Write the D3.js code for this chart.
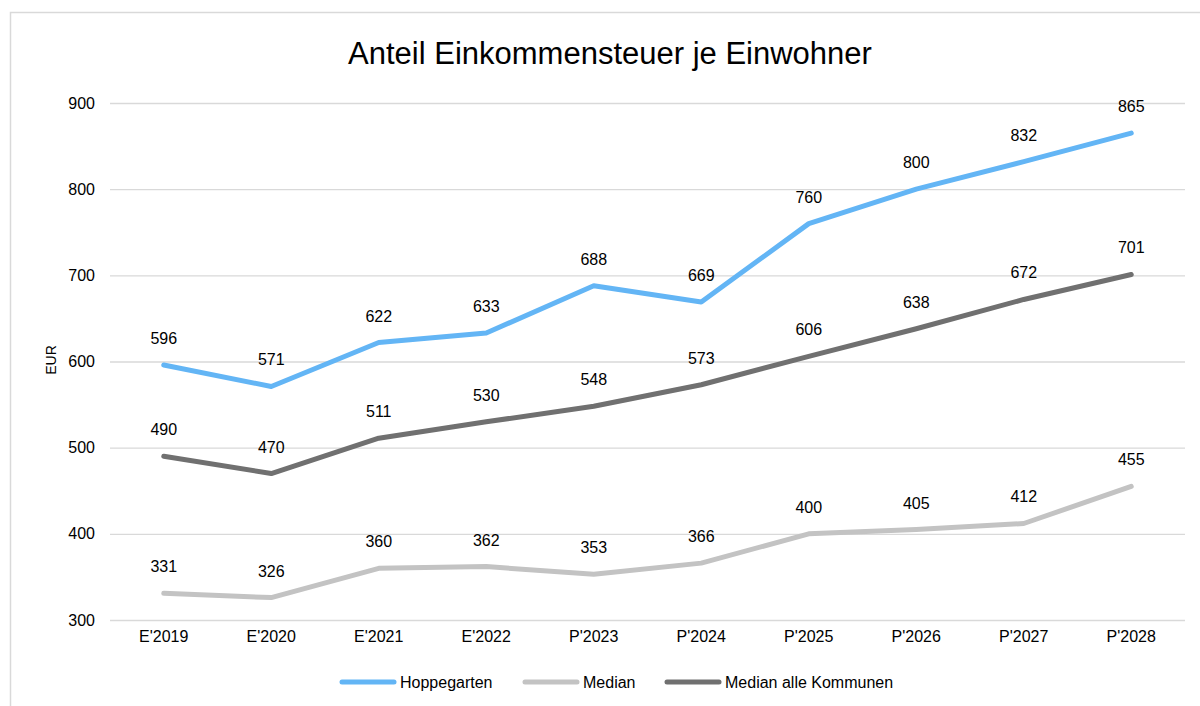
<!DOCTYPE html>
<html>
<head>
<meta charset="utf-8">
<script src="https://cdn.jsdelivr.net/npm/d3@7"></script>
<style>
  body { margin: 0; background: #fff; font-family: 'Liberation Sans', Arial, sans-serif; }
</style>
</head>
<body>
<script>
const categories = ["E'2019", "E'2020", "E'2021", "E'2022", "P'2023", "P'2024", "P'2025", "P'2026", "P'2027", "P'2028"];
const hoppegarten = [596, 571, 622, 633, 688, 669, 760, 800, 832, 865];
const median = [331, 326, 360, 362, 353, 366, 400, 405, 412, 455];
const medianAlle = [490, 470, 511, 530, 548, 573, 606, 638, 672, 701];
const yTicks = [300, 400, 500, 600, 700, 800, 900];

const series = [
  { name: 'Hoppegarten', values: hoppegarten, color: '#63b5f5' },
  { name: 'Median', values: median, color: '#c3c3c3' },
  { name: 'Median alle Kommunen', values: medianAlle, color: '#707070' }
];

const W = 1200, H = 706;
const plotLeft = 110, plotRight = 1185, plotTop = 103, plotBottom = 620;

const svg = d3.select('body').append('svg')
  .attr('width', W)
  .attr('height', H)
  .style('font-family', "'Liberation Sans', Arial, sans-serif");

// outer frame (cut off at right / bottom)
svg.append('rect')
  .attr('x', 10.5).attr('y', 12.5)
  .attr('width', W + 20).attr('height', H + 20)
  .attr('fill', 'none')
  .attr('stroke', '#d9d9d9')
  .attr('stroke-width', 1.5);

const x = d3.scaleBand().domain(categories).range([plotLeft, plotRight]);
const y = d3.scaleLinear().domain([300, 900]).range([plotBottom, plotTop]);
const cx = d => x(d) + x.bandwidth() / 2;

// grid + y labels
const yAxis = d3.axisLeft(y).tickValues(yTicks).tickSize(-(plotRight - plotLeft)).tickPadding(15);
const gy = svg.append('g').attr('transform', `translate(${plotLeft},0)`).call(yAxis);
gy.select('.domain').remove();
gy.selectAll('.tick line').attr('stroke', '#d9d9d9').attr('stroke-width', 1.3);
gy.selectAll('.tick text').attr('fill', '#000').style('font-size', '16px');

// x labels
const xAxis = d3.axisBottom(x).tickSize(0).tickPadding(11);
const gx = svg.append('g').attr('transform', `translate(0,${plotBottom})`).call(xAxis);
gx.select('.domain').remove();
gx.selectAll('.tick text').attr('fill', '#000').style('font-size', '16px');

// title
svg.append('text')
  .attr('x', 610).attr('y', 64)
  .attr('text-anchor', 'middle')
  .style('font-size', '31px')
  .text('Anteil Einkommensteuer je Einwohner');

// y axis title
svg.append('text')
  .attr('transform', 'translate(56,360) rotate(-90)')
  .attr('text-anchor', 'middle')
  .style('font-size', '14px')
  .text('EUR');

const line = d3.line()
  .x((d, i) => cx(categories[i]))
  .y(d => y(d));

// draw order: grey median first, then dark, then blue
[series[1], series[2], series[0]].forEach(s => {
  svg.append('path')
    .datum(s.values)
    .attr('d', line)
    .attr('fill', 'none')
    .attr('stroke', s.color)
    .attr('stroke-width', 5)
    .attr('stroke-linecap', 'round')
    .attr('stroke-linejoin', 'round');
});

// data labels
series.forEach(s => {
  svg.append('g').selectAll('text')
    .data(s.values)
    .enter()
    .append('text')
    .attr('x', (d, i) => cx(categories[i]))
    .attr('y', d => y(d) - 21)
    .attr('text-anchor', 'middle')
    .style('font-size', '16px')
    .text(d => d);
});

// legend
const legendX = [340, 523, 665];
const leg = svg.append('g');
series.forEach((s, i) => {
  leg.append('line')
    .attr('x1', legendX[i] + 2).attr('x2', legendX[i] + 54)
    .attr('y1', 682).attr('y2', 682)
    .attr('stroke', s.color)
    .attr('stroke-width', 5)
    .attr('stroke-linecap', 'round');
  leg.append('text')
    .attr('x', legendX[i] + 60).attr('y', 688)
    .style('font-size', '16px')
    .text(s.name);
});
</script>
</body>
</html>
